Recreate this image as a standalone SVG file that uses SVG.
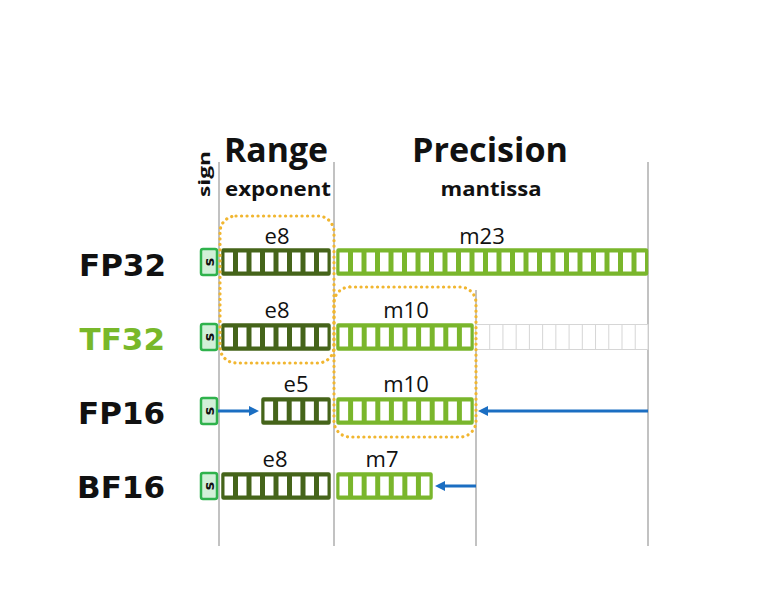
<svg xmlns="http://www.w3.org/2000/svg" width="757" height="594" viewBox="0 0 757 594">
  <style>
    .bg { fill: #ffffff; }
    .guide { stroke: #c2c2c2; stroke-width: 2; fill: none; }
    .hdr { font-family: "Open Sans", "DejaVu Sans", sans-serif; font-weight: bold; fill: #111111; }
    .row { font-family: "DejaVu Sans", "Open Sans", sans-serif; font-weight: bold; font-size: 31px; fill: #111111; text-anchor: end; }
    .bits { font-family: "Open Sans", "DejaVu Sans", sans-serif; font-size: 22px; fill: #111111; text-anchor: middle; }
    .sign rect { fill: #d2f0d8; stroke: #2fb24c; stroke-width: 2.5; }
    .sign text { font-family: "DejaVu Sans", sans-serif; font-weight: bold; font-size: 14px; fill: #111111; text-anchor: middle; }
    .exp { fill: #45641a; stroke: #45641a; stroke-width: 1.5; }
    .man { fill: #7ab62c; stroke: #7ab62c; stroke-width: 1.5; }
    .cells { stroke: #ffffff; stroke-width: 19; fill: none; }
    .ghost { fill: #ffffff; stroke: #d6d6d6; stroke-width: 1; }
    .ghostdiv { stroke: #d6d6d6; stroke-width: 26; fill: none; }
    .dot { fill: none; stroke: #f1b630; stroke-width: 3.2; stroke-linecap: round; stroke-dasharray: 0.1 5.4; }
    .arrow { stroke: #1b6ec2; stroke-width: 3; fill: none; marker-end: url(#ah); }
  </style>
  <defs>
    <marker id="ah" viewBox="0 0 10 10" refX="3" refY="5" markerWidth="10" markerHeight="10" markerUnits="userSpaceOnUse" orient="auto">
      <path d="M0,0 L10,5 L0,10 z" fill="#1b6ec2"/>
    </marker>
  </defs>
  <rect class="bg" x="0" y="0" width="757" height="594"/>

  <g id="guides">
    <line class="guide" x1="219" y1="162" x2="219" y2="546"/>
    <line class="guide" x1="334" y1="162" x2="334" y2="546"/>
    <line class="guide" x1="476" y1="290" x2="476" y2="546"/>
    <line class="guide" x1="648" y1="162" x2="648" y2="546"/>
  </g>

  <g id="header">
    <text class="hdr" x="276" y="162" font-size="34" text-anchor="middle" textLength="104" lengthAdjust="spacingAndGlyphs">Range</text>
    <text class="hdr" x="490" y="162" font-size="34" text-anchor="middle" textLength="156" lengthAdjust="spacingAndGlyphs">Precision</text>
    <text class="hdr" x="278" y="196" font-size="20" text-anchor="middle" textLength="106" lengthAdjust="spacingAndGlyphs">exponent</text>
    <text class="hdr" x="491" y="196" font-size="20" text-anchor="middle" textLength="101" lengthAdjust="spacingAndGlyphs">mantissa</text>
    <text class="hdr" transform="translate(210,174) rotate(-90)" x="0" y="0" font-size="16" text-anchor="middle" textLength="46" lengthAdjust="spacingAndGlyphs">sign</text>
  </g>

  <g id="fp32">
    <text class="row" x="166" y="276">FP32</text>
    <g class="sign"><rect x="201" y="249" width="16" height="26" rx="2"/><text transform="translate(214,262) rotate(-90)" x="0" y="0">s</text></g>
    <text class="bits" x="277" y="244">e8</text>
    <rect class="exp" x="222" y="249" width="108" height="26" rx="1.5"/>
    <line class="cells" x1="224.5" y1="262" x2="327.5" y2="262" stroke-dasharray="8.5 5"/>
    <text class="bits" x="482" y="244">m23</text>
    <rect class="man" x="337" y="249" width="310.5" height="26" rx="1.5"/>
    <line class="cells" x1="339.5" y1="262" x2="645" y2="262" stroke-dasharray="8.5 5"/>
  </g>

  <g id="tf32">
    <text class="row" x="165" y="350" style="fill:#78b82a">TF32</text>
    <g class="sign"><rect x="201" y="324" width="16" height="26" rx="2"/><text transform="translate(214,337) rotate(-90)" x="0" y="0">s</text></g>
    <text class="bits" x="277" y="318">e8</text>
    <rect class="exp" x="222" y="324" width="108" height="26" rx="1.5"/>
    <line class="cells" x1="224.5" y1="337" x2="327.5" y2="337" stroke-dasharray="8.5 5"/>
    <text class="bits" x="406" y="318">m10</text>
    <rect class="man" x="337" y="324" width="136" height="26" rx="1.5"/>
    <line class="cells" x1="339.5" y1="337" x2="470.5" y2="337" stroke-dasharray="8.6 5"/>
    <rect class="ghost" x="476" y="324.5" width="172" height="25"/>
    <line class="ghostdiv" x1="489.2" y1="337" x2="648" y2="337" stroke-dasharray="1 12.23"/>
  </g>

  <g id="fp16">
    <text class="row" x="165" y="424">FP16</text>
    <g class="sign"><rect x="201" y="398" width="16" height="26" rx="2"/><text transform="translate(214,411) rotate(-90)" x="0" y="0">s</text></g>
    <text class="bits" x="296" y="392">e5</text>
    <rect class="exp" x="262" y="398" width="68" height="26" rx="1.5"/>
    <line class="cells" x1="264.5" y1="411" x2="327.5" y2="411" stroke-dasharray="8.6 5"/>
    <text class="bits" x="406" y="392">m10</text>
    <rect class="man" x="337" y="398" width="136" height="26" rx="1.5"/>
    <line class="cells" x1="339.5" y1="411" x2="470.5" y2="411" stroke-dasharray="8.6 5"/>
  </g>

  <g id="bf16">
    <text class="row" x="165" y="498">BF16</text>
    <g class="sign"><rect x="201" y="473" width="16" height="26" rx="2"/><text transform="translate(214,486) rotate(-90)" x="0" y="0">s</text></g>
    <text class="bits" x="275" y="467">e8</text>
    <rect class="exp" x="222" y="473" width="108" height="26" rx="1.5"/>
    <line class="cells" x1="224.5" y1="486" x2="327.5" y2="486" stroke-dasharray="8.5 5"/>
    <text class="bits" x="382" y="467">m7</text>
    <rect class="man" x="337" y="473" width="95" height="26" rx="1.5"/>
    <line class="cells" x1="339.5" y1="486" x2="429.5" y2="486" stroke-dasharray="8.57 5"/>
  </g>

  <g id="highlight-range">
    <rect class="dot" x="220" y="216" width="114" height="147" rx="16"/>
  </g>
  <g id="highlight-precision">
    <rect class="dot" x="334" y="287" width="142" height="150" rx="16"/>
  </g>

  <g id="connectors">
    <line class="arrow" x1="218" y1="411" x2="252" y2="411"/>
    <line class="arrow" x1="648" y1="411" x2="485" y2="411"/>
    <line class="arrow" x1="476" y1="486" x2="442" y2="486"/>
  </g>
</svg>
